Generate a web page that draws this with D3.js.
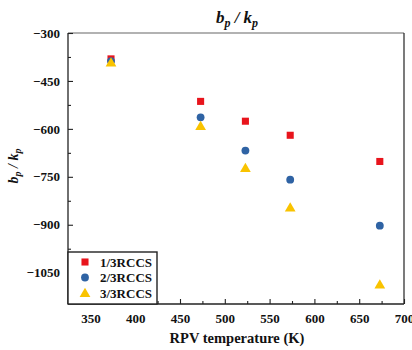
<!DOCTYPE html>
<html><head><meta charset="utf-8">
<script src="https://cdn.jsdelivr.net/npm/d3@7"></script>
<style>body{margin:0;background:#fff}svg{display:block}</style>
</head><body><svg id="c" width="412" height="350"></svg>
<script>
const temps = [373, 473, 523, 573, 673];
const series1 = [-381, -514, -576, -620, -702];
const series2 = [-388, -564, -668, -759, -903];
const series3 = [-392, -591, -722, -846, -1087];
const seriesNames = ["1/3RCCS", "2/3RCCS", "3/3RCCS"];
const xTicks = [350, 400, 450, 500, 550, 600, 650, 700];
const yTicks = [-300, -450, -600, -750, -900, -1050];

const svg = d3.select("#c");
const m = {l: 68, r: 404, t: 33, b: 304};
const x = d3.scaleLinear().domain([325, 700]).range([m.l, m.r]);
const y = d3.scaleLinear().domain([-1148, -300]).range([m.b, m.t]);
const font = "'Liberation Serif', 'Times New Roman', serif";

// frame
svg.append("line").attr("x1", m.l).attr("x2", m.r).attr("y1", m.t).attr("y2", m.t).attr("stroke", "#666").attr("stroke-width", 1.2);
svg.append("line").attr("x1", m.r).attr("x2", m.r).attr("y1", m.t).attr("y2", m.b).attr("stroke", "#222").attr("stroke-width", 1.2);

// axes
const xAxis = d3.axisBottom(x).tickValues(xTicks).tickSize(-5).tickPadding(10).tickFormat(d3.format("d"));
const gx = svg.append("g").attr("transform", `translate(0,${m.b})`).call(xAxis);
const minorX = d3.range(325, 700, 50);
svg.append("g").attr("transform", `translate(0,${m.b})`).call(d3.axisBottom(x).tickValues(minorX).tickSize(-3).tickFormat(""))
  .call(g => g.select(".domain").remove());
const yAxis = d3.axisLeft(y).tickValues(yTicks).tickSize(-5).tickPadding(8).tickFormat(d => d3.format("d")(d).replace("-", "\u2212"));
const gy = svg.append("g").attr("transform", `translate(${m.l},0)`).call(yAxis);
const minorY = d3.range(-1125, -300, 75).filter(v => !yTicks.includes(v));
svg.append("g").attr("transform", `translate(${m.l},0)`).call(d3.axisLeft(y).tickValues(minorY).tickSize(-3).tickFormat(""))
  .call(g => g.select(".domain").remove());
svg.selectAll(".domain").attr("stroke", "#222").attr("stroke-width", 1.3);
svg.selectAll(".tick line").attr("stroke", "#222").attr("stroke-width", 1.1);
svg.selectAll(".tick text").attr("font-family", font).attr("font-weight", "bold").attr("font-size", 13).attr("fill", "#111");
gx.selectAll(".domain").attr("d", `M${m.l},0H${m.r}`);
gy.selectAll(".domain").attr("d", `M0,${m.b}V${m.t}`);

// data
const colors = ["#e8141c", "#2f63a4", "#f9c300"];
const allSeries = [series1, series2, series3];
const symbols = [d3.symbolSquare, d3.symbolCircle, d3.symbolTriangle];
const sizes = [50, 48, 50];
allSeries.forEach((s, i) => {
  svg.append("g").selectAll("path").data(s).join("path")
    .attr("d", d3.symbol(symbols[i], sizes[i]))
    .attr("transform", (d, j) => `translate(${x(temps[j])},${y(d) + (i === 2 ? 1 : 0)})`)
    .attr("fill", colors[i]);
});

// legend
const lg = svg.append("g");
lg.append("rect").attr("x", m.l).attr("y", 252).attr("width", 89).attr("height", m.b - 252)
  .attr("fill", "#fff").attr("stroke", "#222").attr("stroke-width", 1.4);
seriesNames.forEach((n, i) => {
  const yy = 262 + i * 15.5;
  lg.append("path").attr("d", d3.symbol(symbols[i], sizes[i])).attr("transform", `translate(85,${yy + (i === 2 ? 1 : 0)})`).attr("fill", colors[i]);
  lg.append("text").attr("x", 100).attr("y", yy).attr("dy", "0.35em").text(n)
    .attr("font-family", font).attr("font-weight", "bold").attr("font-size", 13).attr("fill", "#111");
});

// title
const t = svg.append("text").attr("x", 237).attr("y", 23).attr("text-anchor", "middle")
  .attr("font-family", font).attr("font-weight", "bold").attr("font-style", "italic").attr("font-size", 17).attr("fill", "#111");
t.append("tspan").text("b");
t.append("tspan").text("p").attr("font-size", 12).attr("dy", 4);
t.append("tspan").text(" / k").attr("dy", -4);
t.append("tspan").text("p").attr("font-size", 12).attr("dy", 4);

// y label
const yl = svg.append("text").attr("transform", "translate(18,166) rotate(-90)").attr("text-anchor", "middle")
  .attr("font-family", font).attr("font-weight", "bold").attr("font-style", "italic").attr("font-size", 14).attr("fill", "#111");
yl.append("tspan").text("b");
yl.append("tspan").text("p").attr("font-size", 10).attr("dy", 3);
yl.append("tspan").text(" / k").attr("dy", -3);
yl.append("tspan").text("p").attr("font-size", 10).attr("dy", 3);

// x label
svg.append("text").attr("x", 237).attr("y", 343).attr("text-anchor", "middle")
  .attr("font-family", font).attr("font-weight", "bold").attr("font-size", 14.5).attr("fill", "#111")
  .text("RPV temperature (K)");
</script></body></html>
